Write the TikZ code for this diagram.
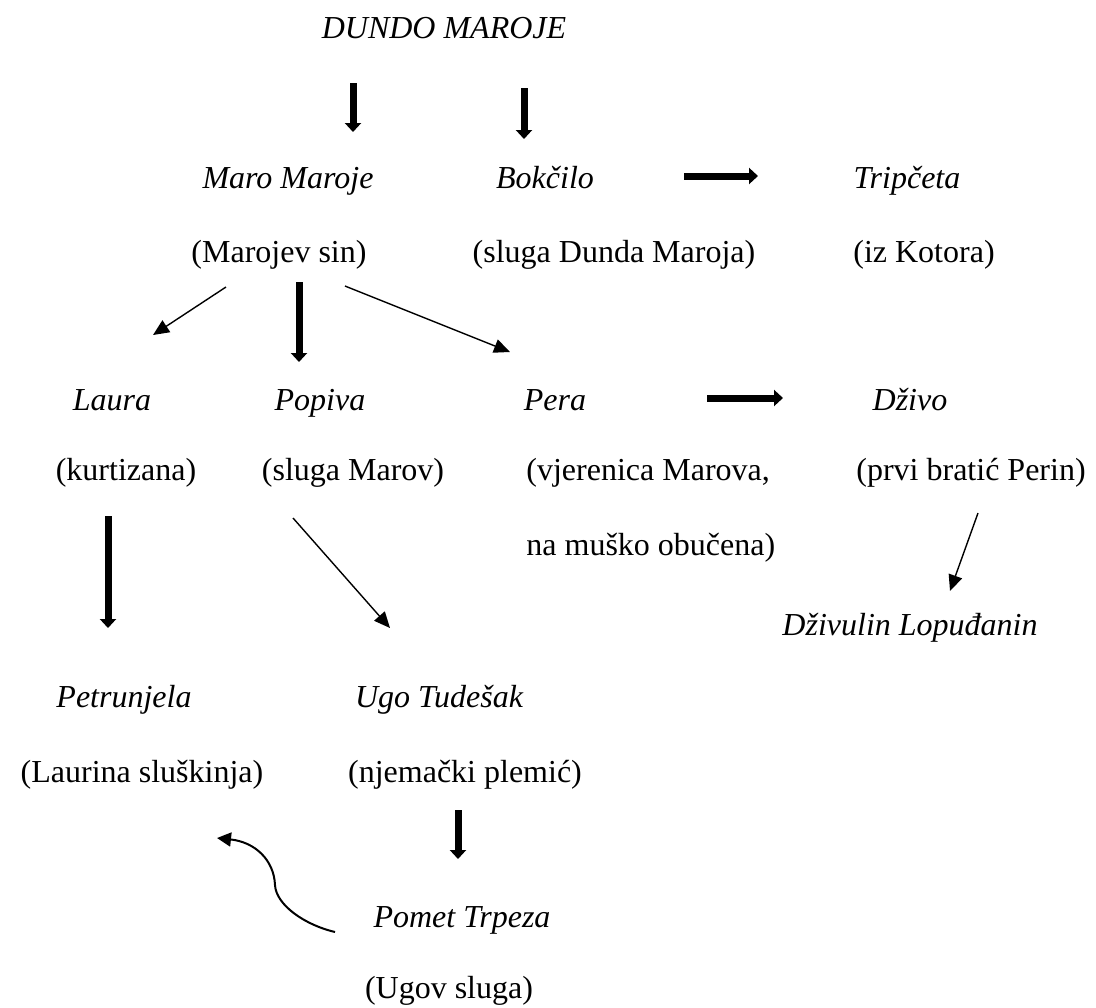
\documentclass[tikz,border=0pt]{standalone}
\usepackage{fontspec}
\setmainfont{Liberation Serif}
\usetikzlibrary{arrows.meta}
\begin{document}
\begin{tikzpicture}[x=0.5pt, y=-0.5pt, every node/.style={inner sep=0pt},
    lik/.style={anchor=base, font=\fontsize{16}{18}\selectfont\itshape},
    opis/.style={anchor=base, font=\fontsize{16}{37.5}\selectfont},
    jaka/.style={line width=3.5pt, -{Triangle[width=8pt,length=4.5pt]}},
    tanka/.style={line width=0.7pt, -{Triangle[width=7pt,length=8pt]}}]

    \useasboundingbox (0,0) rectangle (1096,1007);

    \node[lik] (dundo) at (444,38) {DUNDO MAROJE};

    \node[lik] (maro) at (288,188) {Maro Maroje};
    \node[lik] (bokcilo) at (545,188) {Bokčilo};
    \node[lik] (tripceta) at (907,188) {Tripčeta};
    \node[opis] (maro-o) at (279,262) {(Marojev sin)};
    \node[opis] (bokcilo-o) at (614,262) {(sluga Dunda Maroja)};
    \node[opis] (tripceta-o) at (924,262) {(iz Kotora)};

    \node[lik] (laura) at (112,410) {Laura};
    \node[lik] (popiva) at (320,410) {Popiva};
    \node[lik] (pera) at (555,410) {Pera};
    \node[lik] (zivo) at (910,410) {Dživo};
    \node[opis] (laura-o) at (126,480) {(kurtizana)};
    \node[opis] (popiva-o) at (353,480) {(sluga Marov)};
    \node[opis, anchor=base west, align=left] (pera-o) at (526,555) {(vjerenica Marova,\\na muško obučena)};
    \node[opis] (zivo-o) at (971,480) {(prvi bratić Perin)};

    \node[lik] (zivulin) at (910,635) {Dživulin Lopuđanin};

    \node[lik] (petrunjela) at (124,707) {Petrunjela};
    \node[lik] (ugo) at (439,707) {Ugo Tudešak};
    \node[opis] (petrunjela-o) at (142,782) {(Laurina sluškinja)};
    \node[opis] (ugo-o) at (465,782) {(njemački plemić)};

    \node[lik] (pomet) at (462,927) {Pomet Trpeza};
    \node[opis] (pomet-o) at (449,998) {(Ugov sluga)};

    \coordinate (d1) at (353,83);
    \coordinate (d1k) at (353,132);
    \coordinate (d2) at (524,88);
    \coordinate (d2k) at (524,139);
    \coordinate (b1) at (684,176);
    \coordinate (b1k) at (758,176);
    \coordinate (m1) at (226,287);
    \coordinate (m1k) at (153,335);
    \coordinate (m2) at (299,282);
    \coordinate (m2k) at (299,362);
    \coordinate (m3) at (345,286);
    \coordinate (m3k) at (510,352);
    \coordinate (p1) at (707,398);
    \coordinate (p1k) at (783,398);
    \coordinate (l1) at (108,516);
    \coordinate (l1k) at (108,628);
    \coordinate (po1) at (293,518);
    \coordinate (po1k) at (390,628);
    \coordinate (z1) at (978,513);
    \coordinate (z1k) at (950,591);
    \coordinate (u1) at (458,810);
    \coordinate (u1k) at (458,859);
    \coordinate (c1) at (335,932);
    \coordinate (c2) at (275,885);
    \coordinate (c1k) at (217,838);

    \draw[jaka] (d1) to (d1k);
    \draw[jaka] (d2) to (d2k);
    \draw[jaka] (b1) to (b1k);
    \draw[tanka] (m1) to (m1k);
    \draw[jaka] (m2) to (m2k);
    \draw[tanka] (m3) to (m3k);
    \draw[jaka] (p1) to (p1k);
    \draw[jaka] (l1) to (l1k);
    \draw[tanka] (po1) to (po1k);
    \draw[tanka] (z1) to (z1k);
    \draw[jaka] (u1) to (u1k);
    \draw[line width=1pt, -{Triangle[width=7pt,length=7pt]}]
    (c1).. controls (305,925) and (276,905).. (c2)
    .. controls (274,860) and (255,842).. (c1k);

\end{tikzpicture}
\end{document}
